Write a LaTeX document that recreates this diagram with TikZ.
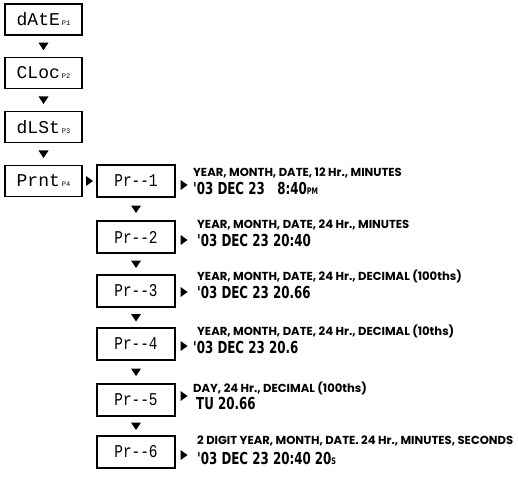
\documentclass[tikz,border=0pt]{standalone}
\usepackage{fontspec}
\setmainfont{Liberation Sans}
\newfontfamily\lcdfont{Liberation Mono}
\newfontfamily\labfont{Poppins}[UprightFont=* Bold]
\newfontfamily\datefont{DejaVu Sans}[UprightFont=* Bold]
\begin{document}
\begin{tikzpicture}[x=1pt,y=-1pt,
  lcd/.style={draw,line width=1.1pt,minimum width=77pt,minimum height=31pt,inner sep=0pt,font=\lcdfont\fontsize{18}{18}\selectfont},
  prbox/.style={lcd,minimum width=78pt,minimum height=32pt},
  lab/.style={anchor=base west,inner sep=0pt,font=\labfont\fontsize{11.6}{12}\selectfont},
  dat/.style={anchor=base west,inner sep=0pt,font=\datefont\fontsize{16.5}{16.5}\selectfont},
  tdown/.pic={\fill (-5,-3.5)--(5,-3.5)--(0,4)--cycle;},
  tright/.pic={\fill (-3.5,-5)--(-3.5,5)--(3.5,0)--cycle;}
]
\useasboundingbox (0,0) rectangle (518,478);
\newcommand{\lcdsub}[1]{\hspace{2pt}{\fontsize{7}{7}\selectfont #1}}
\newcommand{\prtext}[1]{\scalebox{0.8}[1]{Pr--#1}}
\newcommand{\dscale}[1]{\scalebox{0.72}[1]{#1}}
% left column
\node[lcd] (date) at (43.5,19.5) {dAtE\lcdsub{P1}};
\node[lcd] (cloc) at (43.5,73) {CLoc\lcdsub{P2}};
\node[lcd] (dlst) at (43.5,127) {dLSt\lcdsub{P3}};
\node[lcd] (prnt) at (43.5,181) {Prnt\lcdsub{P4}};
% print column
\node[prbox] (p1) at (136,181) {\prtext{1}};
\node[prbox] (p2) at (136,237) {\prtext{2}};
\node[prbox] (p3) at (136,291) {\prtext{3}};
\node[prbox] (p4) at (136,344) {\prtext{4}};
\node[prbox] (p5) at (136,400) {\prtext{5}};
\node[prbox] (p6) at (136,452) {\prtext{6}};
% vertical markers
\path (date) -- pic[midway]{tdown} (cloc);
\path (cloc) -- pic[midway]{tdown} (dlst);
\path (dlst) -- pic[midway]{tdown} (prnt);
\path (prnt) -- pic[midway]{tright} (p1);
\path (p1) -- pic[midway]{tdown} (p2);
\path (p2) -- pic[midway]{tdown} (p3);
\path (p3) -- pic[midway]{tdown} (p4);
\path (p4) -- pic[midway]{tdown} (p5);
\path (p5) -- pic[midway]{tdown} (p6);
% labels and dates
\node[lab] (l1) at (193,176) {YEAR, MONTH, DATE, 12 Hr., MINUTES};
\node[dat] (d1) at (193,194) {\dscale{'03 DEC 23\ \ \ 8:40{\fontsize{9}{9}\selectfont PM}}};
\node[lab] (l2) at (197,228) {YEAR, MONTH, DATE, 24 Hr., MINUTES};
\node[dat] (d2) at (197,246) {\dscale{'03 DEC 23 20:40}};
\node[lab] (l3) at (197,280) {YEAR, MONTH, DATE, 24 Hr., DECIMAL (100ths)};
\node[dat] (d3) at (197,298) {\dscale{'03 DEC 23 20.66}};
\node[lab] (l4) at (197,335) {YEAR, MONTH, DATE, 24 Hr., DECIMAL (10ths)};
\node[dat] (d4) at (193,353) {\dscale{'03 DEC 23 20.6}};
\node[lab] (l5) at (193,392) {DAY, 24 Hr., DECIMAL (100ths)};
\node[dat] (d5) at (196,409) {\dscale{TU 20.66}};
\node[lab] (l6) at (197,444) {2 DIGIT YEAR, MONTH, DATE. 24 Hr., MINUTES, SECONDS};
\node[dat] (d6) at (197,464) {\dscale{'03 DEC 23 20:40 20{\fontsize{9}{9}\selectfont S}}};
% right markers
\path (p1.east) ++(0,4) -- pic[pos=0.5]{tright} ++(17,0);
\path (p2.east) ++(0,3) -- pic[pos=0.5]{tright} ++(17,0);
\path (p3.east) ++(0,1) -- pic[pos=0.5]{tright} ++(17,0);
\path (p4.east) ++(0,2) -- pic[pos=0.5]{tright} ++(17,0);
\path (p5.east) ++(0,-4) -- pic[pos=0.5]{tright} ++(17,0);
\path (p6.east) ++(0,3) -- pic[pos=0.5]{tright} ++(17,0);
\end{tikzpicture}
\end{document}
